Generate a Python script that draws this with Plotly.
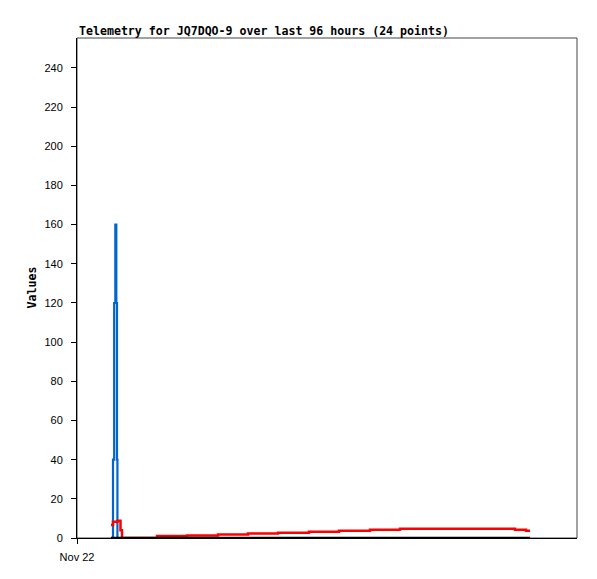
import plotly.graph_objects as go

# timestamps of the 24 samples
times = [
    "2023-11-22 06:48", "2023-11-22 07:12", "2023-11-22 07:26", "2023-11-22 07:40",
    "2023-11-22 07:52", "2023-11-22 08:00", "2023-11-22 08:05", "2023-11-22 08:42",
    "2023-11-22 09:00", "2023-11-22 16:00", "2023-11-22 22:00", "2023-11-23 04:12",
    "2023-11-23 10:12", "2023-11-23 16:12", "2023-11-23 22:24", "2023-11-24 04:24",
    "2023-11-24 10:36", "2023-11-24 16:36", "2023-11-24 22:36", "2023-11-25 04:48",
    "2023-11-25 10:48", "2023-11-25 15:36", "2023-11-25 17:48", "2023-11-25 18:36",
]
blue_values = [0, 40, 120, 160, 120, 40, 0, 0, 0, 0, 0, 0, 0, 0, 0, 0, 0, 0, 0, 0, 0, 0, 0, 0]
red_values = [6.6, 8.3, 8.3, 8.3, 8.3, 8.3, 8.8, 4.0, 0, 1.0, 1.3, 1.8, 2.3, 2.7, 3.2, 3.7,
              4.2, 4.7, 4.7, 4.7, 4.7, 4.2, 3.7, 3.7]
black_values = [0] * 24

y_ticks = [0, 20, 40, 60, 80, 100, 120, 140, 160, 180, 200, 220, 240]
x_tick_vals = ["2023-11-22 00:00"]
x_tick_text = ["Nov 22"]

title_text = "Telemetry for JQ7DQO-9 over last 96 hours (24 points)"
y_title = "Values"

fig = go.Figure()
fig.add_trace(go.Scatter(x=times, y=blue_values, mode="lines", line=dict(color="#0066cc", width=2.2, shape="hv"),
                         showlegend=False))
fig.add_trace(go.Scatter(x=times, y=red_values, mode="lines", line=dict(color="#ff0000", width=2.5, shape="hv"),
                         showlegend=False))
fig.add_trace(go.Scatter(x=times, y=black_values, mode="lines", line=dict(color="#000000", width=2.5, shape="hv"),
                         showlegend=False))

mono = "DejaVu Sans Mono"
# page body has an 8px default margin, so the figure is offset by 8px
fig.update_layout(
    width=589, height=563,
    margin=dict(l=69, r=20, t=30, b=33),
    plot_bgcolor="white", paper_bgcolor="white",
    showlegend=False,
    xaxis=dict(
        type="date",
        range=["2023-11-22 00:00", "2023-11-26 04:00"],
        tickvals=x_tick_vals, ticktext=x_tick_text,
        ticks="outside", ticklen=5, tickcolor="black", tickwidth=1,
        showline=True, linecolor="black", linewidth=1,
        showgrid=False, zeroline=False,
        automargin=False,
        ticklabelstandoff=4,
        tickfont=dict(family="Liberation Sans", size=11, color="#000"),
    ),
    yaxis=dict(
        range=[0, 255.3],
        tickvals=y_ticks,
        ticks="outside", ticklen=5, tickcolor="black", tickwidth=1,
        showline=True, linecolor="black", linewidth=1,
        showgrid=False, zeroline=False,
        automargin=False,
        ticklabelstandoff=6,
        tickfont=dict(family="Liberation Sans", size=11, color="#000"),
    ),
    shapes=[dict(type="rect", xref="paper", yref="paper", x0=0, x1=1, y0=0, y1=1,
                 line=dict(color="#444444", width=1), layer="below")],
    annotations=[
        dict(text="<b>" + title_text + "</b>", xref="paper", yref="paper", x=0, y=1,
             xanchor="left", yanchor="bottom", yshift=-2, showarrow=False,
             font=dict(family=mono, size=11.6, color="#000")),
        dict(text="<b>" + y_title + "</b>", xref="paper", yref="paper", x=-0.091, y=0.5,
             xanchor="center", yanchor="middle", textangle=-90, showarrow=False,
             font=dict(family=mono, size=11.6, color="#000")),
    ],
)

fig.write_html("out.html")
